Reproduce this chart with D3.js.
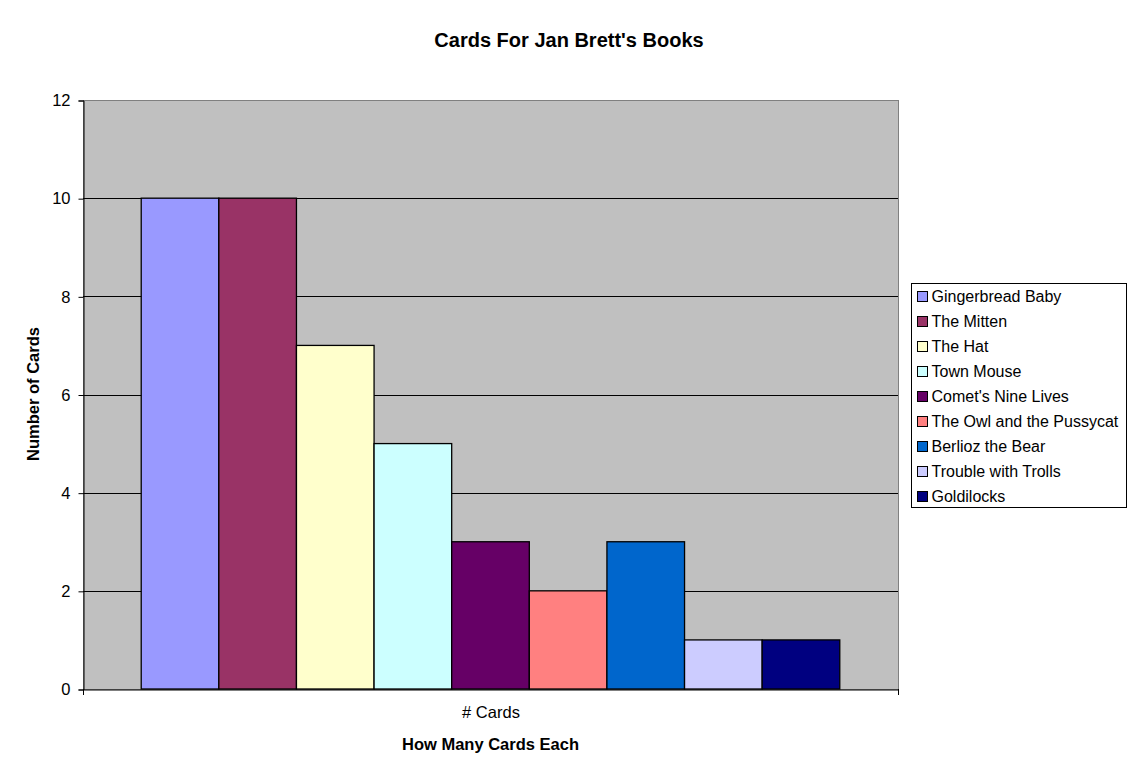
<!DOCTYPE html>
<html>
<head>
<meta charset="utf-8">
<script src="https://cdn.jsdelivr.net/npm/d3@7"></script>
<style>
  body { margin: 0; background: #fff; }
  text { font-family: "Liberation Sans", Arial, sans-serif; }
</style>
</head>
<body>
<div class="chart"></div>
<script>
// data
const category = '# Cards'
const books = ['Gingerbread Baby', 'The Mitten', 'The Hat', 'Town Mouse', "Comet's Nine Lives",
  'The Owl and the Pussycat', 'Berlioz the Bear', 'Trouble with Trolls', 'Goldilocks']
const cards = [10, 10, 7, 5, 3, 2, 3, 1, 1]
const colors = ['#9999ff', '#993366', '#ffffcc', '#ccffff', '#660066', '#ff8080', '#0066cc', '#ccccff', '#000080']
const yTicks = [0, 2, 4, 6, 8, 10, 12]

const width = 1138
const height = 778
const plot = { left: 83, top: 100, right: 898, bottom: 689 }

const svg = d3.select('.chart')
  .append('svg')
  .attr('width', width)
  .attr('height', height)

// plot background
svg.append('rect')
  .attr('x', plot.left + 0.5)
  .attr('y', plot.top + 0.5)
  .attr('width', plot.right - plot.left)
  .attr('height', plot.bottom - plot.top)
  .attr('fill', '#c0c0c0')
  .attr('stroke', '#808080')
  .attr('stroke-width', 1)

const y = d3.scaleLinear().domain([0, 12]).range([plot.bottom, plot.top])
const x0 = d3.scaleBand().domain([category]).range([plot.left, plot.right])
// 9 bars + gap of 1.5 bar widths split on both sides
const barW = x0.bandwidth() / 10.5
const x1 = d3.scaleBand().domain(books)
  .range([x0(category) + barW * 0.75, x0(category) + x0.bandwidth() - barW * 0.75])

// gridlines
svg.selectAll('.grid')
  .data(yTicks.filter(d => d > 0 && d < 12))
  .enter()
  .append('line')
  .attr('x1', plot.left)
  .attr('x2', plot.right)
  .attr('y1', d => Math.round(y(d)) + 0.5)
  .attr('y2', d => Math.round(y(d)) + 0.5)
  .attr('stroke', '#000')

// bars
svg.selectAll('.bar')
  .data(books)
  .enter()
  .append('rect')
  .attr('x', d => x1(d))
  .attr('y', (d, i) => y(cards[i]))
  .attr('width', x1.bandwidth())
  .attr('height', (d, i) => plot.bottom - y(cards[i]))
  .attr('fill', (d, i) => colors[i])
  .attr('stroke', '#000')
  .attr('stroke-width', 1.3)

// y axis
const yAxis = svg.append('g')
  .attr('transform', `translate(${plot.left + 0.5},0.5)`)
  .call(d3.axisLeft(y).tickValues(yTicks).tickSize(5).tickPadding(8))
yAxis.select('.domain').attr('stroke', '#000')
yAxis.selectAll('line').attr('stroke', '#000')
yAxis.selectAll('text')
  .attr('font-size', 16.5)
  .attr('fill', '#000')
  .style('font-family', '"Liberation Sans", Arial, sans-serif')

// x axis
const xAxis = svg.append('g')
  .attr('transform', `translate(0.5,${plot.bottom + 0.5})`)
  .call(d3.axisBottom(x0).tickSize(0).tickPadding(17))
xAxis.select('.domain').attr('stroke', '#000')
xAxis.selectAll('text')
  .attr('font-size', 16.5)
  .attr('fill', '#000')
  .style('font-family', '"Liberation Sans", Arial, sans-serif')
svg.selectAll('.xtick')
  .data([plot.left, plot.right])
  .enter()
  .append('line')
  .attr('x1', d => d + 0.5)
  .attr('x2', d => d + 0.5)
  .attr('y1', plot.bottom)
  .attr('y2', plot.bottom + 6)
  .attr('stroke', '#000')

// titles
svg.append('text')
  .attr('x', 569)
  .attr('y', 47)
  .attr('text-anchor', 'middle')
  .attr('font-size', 20)
  .attr('font-weight', 'bold')
  .text("Cards For Jan Brett's Books")

svg.append('text')
  .attr('transform', 'translate(39,394) rotate(-90)')
  .attr('text-anchor', 'middle')
  .attr('font-size', 16.5)
  .attr('font-weight', 'bold')
  .text('Number of Cards')

svg.append('text')
  .attr('x', x0(category) + x0.bandwidth() / 2)
  .attr('y', 750)
  .attr('text-anchor', 'middle')
  .attr('font-size', 16.5)
  .attr('font-weight', 'bold')
  .text('How Many Cards Each')

// legend
const legend = svg.append('g').attr('transform', 'translate(911.5,283.5)')
legend.append('rect')
  .attr('width', 215)
  .attr('height', 224)
  .attr('fill', '#fff')
  .attr('stroke', '#000')
legend.selectAll('.swatch')
  .data(books)
  .enter()
  .append('rect')
  .attr('x', 6)
  .attr('y', (d, i) => 8 + i * 25)
  .attr('width', 10)
  .attr('height', 10)
  .attr('fill', (d, i) => colors[i])
  .attr('stroke', '#000')
legend.selectAll('.label')
  .data(books)
  .enter()
  .append('text')
  .attr('x', 20)
  .attr('y', (d, i) => 18.5 + i * 25)
  .attr('font-size', 16)
  .text(d => d)
</script>
</body>
</html>
